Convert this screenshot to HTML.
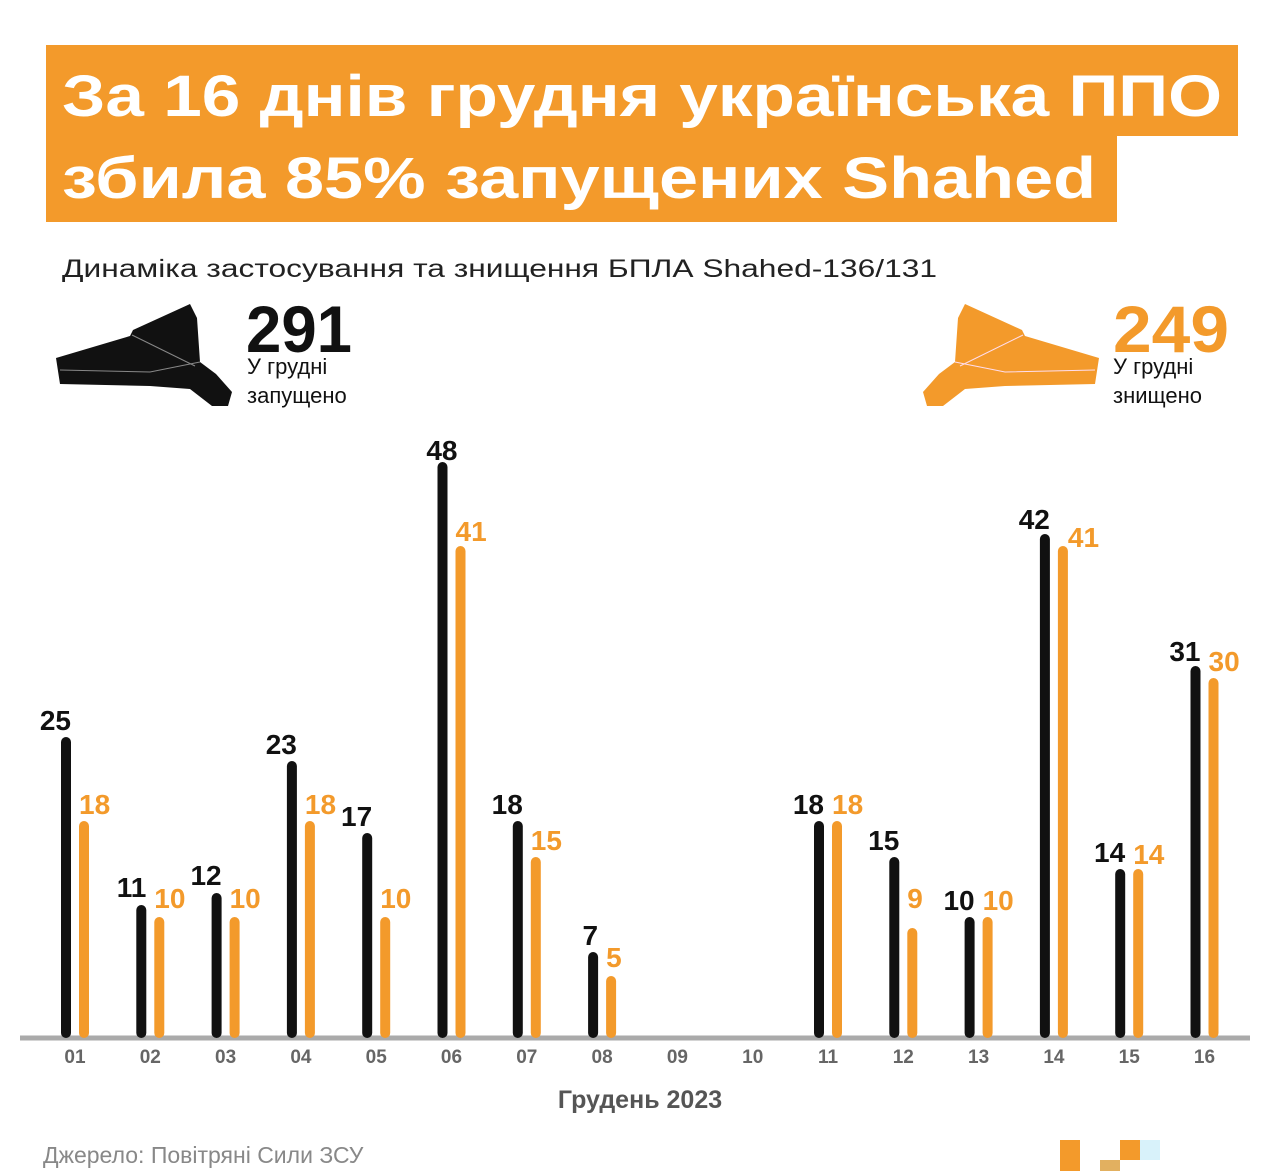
<!DOCTYPE html>
<html><head><meta charset="utf-8"><style>
html,body{margin:0;padding:0;background:#fff;}
svg{display:block;font-family:"Liberation Sans",sans-serif;}
</style></head><body>
<svg width="1280" height="1171" viewBox="0 0 1280 1171" xmlns="http://www.w3.org/2000/svg">
<rect x="0" y="0" width="1280" height="1171" fill="#fff"/>
<rect x="46" y="45" width="1192" height="91" fill="#F39A2B"/>
<rect x="46" y="135" width="1071" height="87" fill="#F39A2B"/>
<text x="62" y="116" font-size="58" font-weight="bold" fill="#fff" textLength="1160" lengthAdjust="spacingAndGlyphs">За 16 днів грудня українська ППО</text>
<text x="62" y="198" font-size="58" font-weight="bold" fill="#fff" textLength="1034" lengthAdjust="spacingAndGlyphs">збила 85% запущених Shahed</text>
<text x="62" y="277" font-size="25" fill="#222" textLength="875" lengthAdjust="spacingAndGlyphs">Динаміка застосування та знищення БПЛА Shahed-136/131</text>

<g fill="#111">
<polygon points="56,358 130,336 133,330 190,304 197,318 200,362 216,374 232,392 228,406 212,406 190,389 150,386 60,384"/>
<polyline points="60,370 150,372 200,362" fill="none" stroke="#888" stroke-width="1"/>
<polyline points="132,335 195,366" fill="none" stroke="#888" stroke-width="1"/>
</g>
<g transform="translate(1155,0) scale(-1,1)" fill="#F39A2B">
<polygon points="56,358 130,336 133,330 190,304 197,318 200,362 216,374 232,392 228,406 212,406 190,389 150,386 60,384"/>
<polyline points="60,370 150,372 200,362" fill="none" stroke="#fde" stroke-width="1"/>
<polyline points="132,335 195,366" fill="none" stroke="#fde" stroke-width="1"/>
</g>

<text x="246" y="352" font-size="66" font-weight="bold" fill="#111" textLength="106" lengthAdjust="spacingAndGlyphs">291</text>
<text x="247" y="374" font-size="22" fill="#111">У грудні</text>
<text x="247" y="403" font-size="22" fill="#111">запущено</text>
<text x="1113" y="352" font-size="66" font-weight="bold" fill="#F39A2B" textLength="116" lengthAdjust="spacingAndGlyphs">249</text>
<text x="1113" y="374" font-size="22" fill="#111">У грудні</text>
<text x="1113" y="403" font-size="22" fill="#111">знищено</text>

<line x1="20" y1="1038" x2="1250" y2="1038" stroke="#aaa" stroke-width="5"/>

<g font-size="19" font-weight="bold" fill="#666" text-anchor="middle">
<text x="75" y="1063">01</text><text x="150.3" y="1063">02</text><text x="225.6" y="1063">03</text><text x="300.9" y="1063">04</text>
<text x="376.2" y="1063">05</text><text x="451.5" y="1063">06</text><text x="526.8" y="1063">07</text><text x="602.1" y="1063">08</text>
<text x="677.4" y="1063">09</text><text x="752.7" y="1063">10</text><text x="828" y="1063">11</text><text x="903.3" y="1063">12</text>
<text x="978.6" y="1063">13</text><text x="1053.9" y="1063">14</text><text x="1129.2" y="1063">15</text><text x="1204.5" y="1063">16</text>
</g>

<g stroke="#111" stroke-width="10" stroke-linecap="round">
<line x1="66" y1="742" x2="66" y2="1033"/>
<line x1="141.3" y1="910" x2="141.3" y2="1033"/>
<line x1="216.6" y1="898" x2="216.6" y2="1033"/>
<line x1="291.9" y1="766" x2="291.9" y2="1033"/>
<line x1="367.2" y1="838" x2="367.2" y2="1033"/>
<line x1="442.5" y1="467" x2="442.5" y2="1033"/>
<line x1="517.8" y1="826" x2="517.8" y2="1033"/>
<line x1="593.1" y1="957" x2="593.1" y2="1033"/>
<line x1="819" y1="826" x2="819" y2="1033"/>
<line x1="894.3" y1="862" x2="894.3" y2="1033"/>
<line x1="969.6" y1="922" x2="969.6" y2="1033"/>
<line x1="1044.9" y1="539" x2="1044.9" y2="1033"/>
<line x1="1120.2" y1="874" x2="1120.2" y2="1033"/>
<line x1="1195.5" y1="671" x2="1195.5" y2="1033"/>
</g>
<g stroke="#F39A2B" stroke-width="10" stroke-linecap="round">
<line x1="84" y1="826" x2="84" y2="1033"/>
<line x1="159.3" y1="922" x2="159.3" y2="1033"/>
<line x1="234.6" y1="922" x2="234.6" y2="1033"/>
<line x1="309.9" y1="826" x2="309.9" y2="1033"/>
<line x1="385.2" y1="922" x2="385.2" y2="1033"/>
<line x1="460.5" y1="551" x2="460.5" y2="1033"/>
<line x1="535.8" y1="862" x2="535.8" y2="1033"/>
<line x1="611.1" y1="981" x2="611.1" y2="1033"/>
<line x1="837" y1="826" x2="837" y2="1033"/>
<line x1="912.3" y1="933" x2="912.3" y2="1033"/>
<line x1="987.6" y1="922" x2="987.6" y2="1033"/>
<line x1="1062.9" y1="551" x2="1062.9" y2="1033"/>
<line x1="1138.2" y1="874" x2="1138.2" y2="1033"/>
<line x1="1213.5" y1="683" x2="1213.5" y2="1033"/>
</g>
<g font-size="28" font-weight="bold" fill="#111" text-anchor="end">
<text x="71" y="730">25</text>
<text x="146.3" y="897">11</text>
<text x="221.6" y="885">12</text>
<text x="296.9" y="754">23</text>
<text x="372.2" y="826">17</text>
<text x="457.5" y="460">48</text>
<text x="522.8" y="814">18</text>
<text x="598.1" y="945">7</text>
<text x="824" y="814">18</text>
<text x="899.3" y="850">15</text>
<text x="974.6" y="910">10</text>
<text x="1049.9" y="529">42</text>
<text x="1125.2" y="862">14</text>
<text x="1200.5" y="661">31</text>
</g>
<g font-size="28" font-weight="bold" fill="#F39A2B">
<text x="79" y="814">18</text>
<text x="154.3" y="908">10</text>
<text x="229.6" y="908">10</text>
<text x="304.9" y="814">18</text>
<text x="380.2" y="908">10</text>
<text x="455.5" y="541">41</text>
<text x="530.8" y="850">15</text>
<text x="606.1" y="967">5</text>
<text x="832" y="814">18</text>
<text x="907.3" y="908">9</text>
<text x="982.6" y="910">10</text>
<text x="1067.9" y="547">41</text>
<text x="1133.2" y="864">14</text>
<text x="1208.5" y="671">30</text>
</g>

<text x="640" y="1108" text-anchor="middle" font-size="25" font-weight="bold" fill="#555">Грудень 2023</text>
<text x="43" y="1163" font-size="23" fill="#888">Джерело: Повітряні Сили ЗСУ</text>
<rect x="1060" y="1140" width="20" height="31" fill="#F39A2B"/>
<rect x="1120" y="1140" width="20" height="20" fill="#F39A2B"/>
<rect x="1100" y="1160" width="20" height="11" fill="#E2B060"/>
<rect x="1140" y="1140" width="20" height="20" fill="#D8F2FA"/>
</svg>
</body></html>
